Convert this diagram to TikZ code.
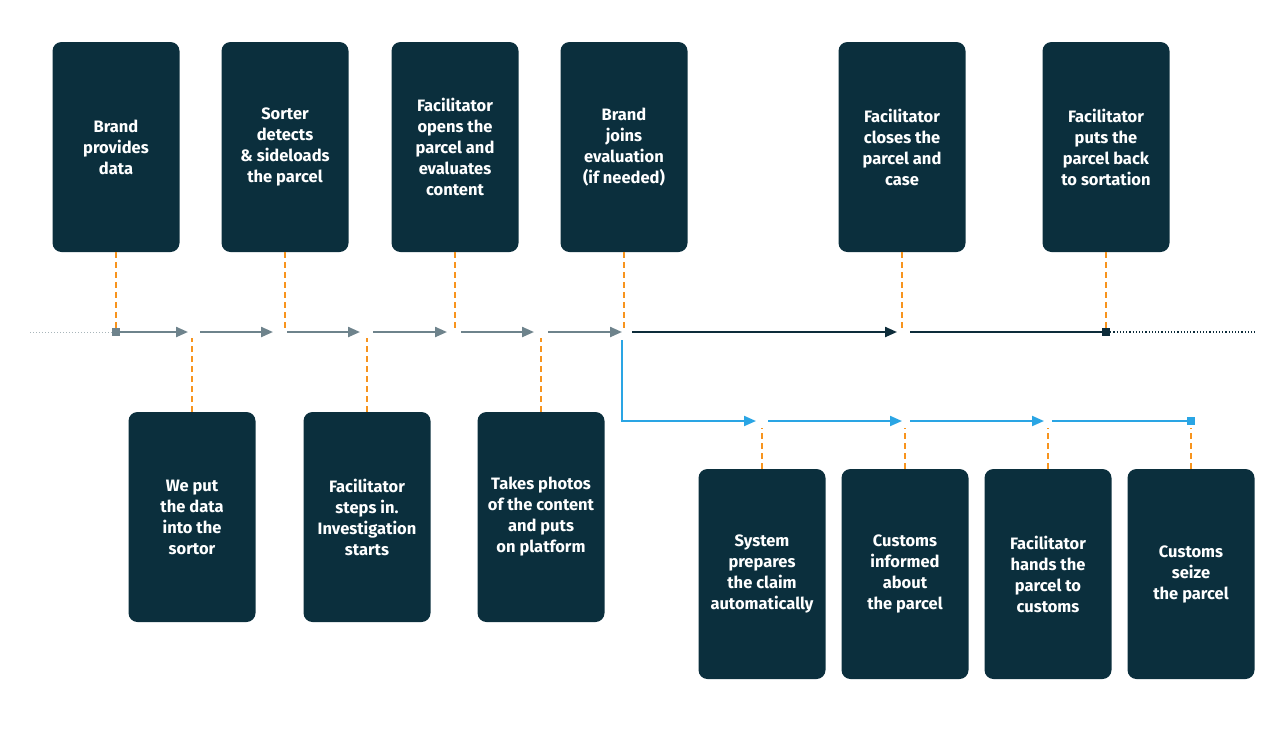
\documentclass[tikz,border=0pt]{standalone}
\usepackage{fontspec}
\setmainfont{Fira Sans}
\usetikzlibrary{arrows.meta}
\definecolor{boxteal}{HTML}{0B2F3D}
\definecolor{flowgray}{HTML}{6E838C}
\definecolor{flowdark}{HTML}{0D2C3A}
\definecolor{flowblue}{HTML}{2AA5E4}
\definecolor{tickorange}{HTML}{F7941E}
\tikzset{
    stepbox/.style={fill=boxteal, rounded corners=9pt, minimum width=127pt, minimum height=210pt,
        text=white, align=center, font=\bfseries\fontsize{16.5}{21}\selectfont, inner sep=0pt},
    tick/.style={tickorange, line width=1.6pt, dash pattern=on 6pt off 4pt},
    grayflow/.style={flowgray, line width=2.2pt, -{Triangle[length=12pt,width=10pt]}},
    darkflow/.style={flowdark, line width=2.2pt},
    blueflow/.style={flowblue, line width=2pt},
    endmark/.style={rectangle, inner sep=0pt, minimum size=8pt}
}
\begin{document}
\begin{tikzpicture}[x=1pt,y=-1pt]
    \useasboundingbox (0,0) rectangle (1280,729);
    % boxes above the line
    \node[stepbox] (t1) at (116,147) {Brand\\provides\\data};
    \node[stepbox] (t2) at (285,147) {Sorter\\detects\\\& sideloads\\the parcel};
    \node[stepbox] (t3) at (455,147) {Facilitator\\opens the\\parcel and\\evaluates\\content};
    \node[stepbox] (t4) at (624,147) {Brand\\joins\\evaluation\\(if needed)};
    \node[stepbox] (t5) at (902,147) {Facilitator\\closes the\\parcel and\\case};
    \node[stepbox] (t6) at (1106,147) {Facilitator\\puts the\\parcel back\\to sortation};
    % boxes below the line
    \node[stepbox] (b1) at (192,517) {We put\\the data\\into the\\sortor};
    \node[stepbox] (b2) at (367,517) {Facilitator\\steps in.\\Investigation\\starts};
    \node[stepbox] (b3) at (541,517) {Takes photos\\of the content\\and puts\\on platform};
    % customs branch
    \node[stepbox] (c1) at (762,574) {System\\prepares\\the claim\\automatically};
    \node[stepbox] (c2) at (905,574) {Customs\\informed\\about\\the parcel};
    \node[stepbox] (c3) at (1048,574) {Facilitator\\hands the\\parcel to\\customs};
    \node[stepbox] (c4) at (1191,574) {Customs\\seize\\the parcel};
    % main line
    \coordinate (lstart) at (30,332);
    \coordinate (lend) at (1255,332);
    \node[endmark, fill=flowgray] (m1) at (116,332) {};
    \node[endmark, fill=flowdark] (m2) at (1106,332) {};
    \draw[flowgray!60, line width=1pt, dotted] (lstart) -- (m1);
    \draw[flowdark, line width=1.2pt, dotted] (m2) -- (lend);
    \foreach \xa/\xb in {116/188,200/273,287/360,373/447,461/534,548/622}
        \draw[grayflow] (\xa,332) -- (\xb,332);
    \coordinate (d1) at (632,332);
    \coordinate (d2) at (897,332);
    \coordinate (d3) at (910,332);
    \draw[darkflow, -{Triangle[length=12pt,width=10pt]}] (d1) -- (d2);
    \draw[darkflow] (d3) -- (m2);
    % customs line
    \coordinate (k0) at (622,340);
    \node[endmark, fill=flowblue] (m3) at (1191,421) {};
    \draw[blueflow, -{Triangle[length=12pt,width=10pt]}] (k0) |- (756,421);
    \foreach \xa/\xb in {768/902,910/1044}
        \draw[blueflow, -{Triangle[length=12pt,width=10pt]}] (\xa,421) -- (\xb,421);
    \draw[blueflow] (1052,421) -- (m3);
    % ticks
    \foreach \n in {t1,t2,t3,t4,t5,t6}
        \draw[tick] (\n.south) -- (\n.south |- 0,328);
    \foreach \n in {b1,b2,b3}
        \draw[tick] (\n.north) -- (\n.north |- 0,338);
    \foreach \n in {c1,c2,c3,c4}
        \draw[tick] (\n.north) -- (\n.north |- 0,428);
\end{tikzpicture}
\end{document}
